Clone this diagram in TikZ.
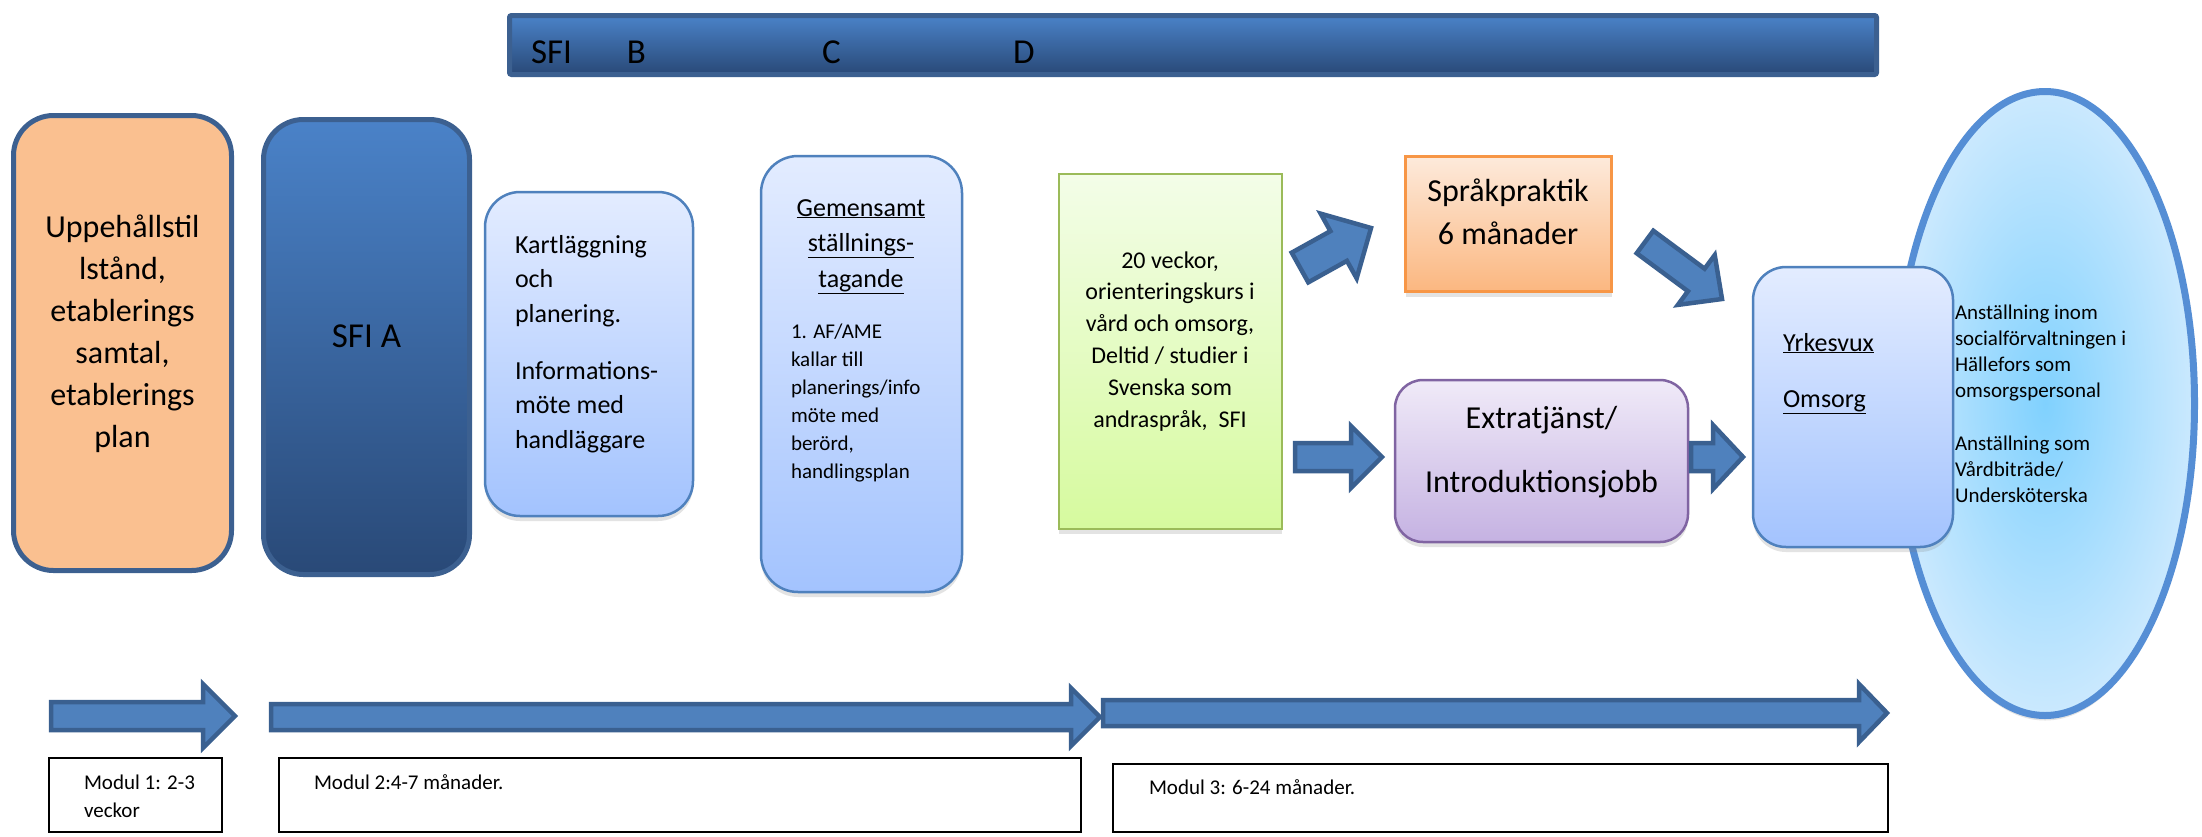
\documentclass[tikz,border=0pt]{standalone}
\usepackage{fontspec}
\setmainfont{Carlito}
\usetikzlibrary{calc,shadows,shapes.geometric}
\definecolor{arrowfill}{HTML}{4F81BD}
\definecolor{arrowline}{HTML}{3A6090}
\definecolor{darkline}{HTML}{3C6090}
\definecolor{navytop}{HTML}{4A82C8}
\definecolor{navybot}{HTML}{294977}
\definecolor{peach}{HTML}{FAC090}
\definecolor{lbtop}{HTML}{E3ECFF}
\definecolor{lbbot}{HTML}{A3C3FE}
\definecolor{lbline}{HTML}{4F81BD}
\definecolor{grtop}{HTML}{F3FDE8}
\definecolor{grbot}{HTML}{D6FA9E}
\definecolor{grline}{HTML}{9BBB59}
\definecolor{ortop}{HTML}{FDEADB}
\definecolor{orbot}{HTML}{FBB780}
\definecolor{orline}{HTML}{F79646}
\definecolor{pptop}{HTML}{F0EAF8}
\definecolor{ppbot}{HTML}{C5B2E2}
\definecolor{ppline}{HTML}{8064A2}
\definecolor{ellin}{HTML}{80D1FE}
\definecolor{ellout}{HTML}{CBE9FE}
\definecolor{ellline}{HTML}{558ED5}
\tikzset{
  box/.style={inner sep=0pt, outer sep=0pt},
  shadowed/.style={drop shadow={opacity=0.22, shadow xshift=0pt, shadow yshift=-5pt}},
  thickbox/.style={box, draw=darkline, line width=5pt},
  lightbox/.style={box, shadowed, draw=lbline, line width=2.5pt, top color=lbtop, bottom color=lbbot},
  greenbox/.style={box, shadowed, draw=grline, line width=2.5pt, top color=grtop, bottom color=grbot},
  orangebox/.style={box, shadowed, draw=orline, line width=2.5pt, top color=ortop, bottom color=orbot},
  purplebox/.style={box, shadowed, draw=ppline, line width=2.5pt, top color=pptop, bottom color=ppbot, rounded corners=28pt},
  modbox/.style={box, draw=black, line width=2pt, fill=white},
  blockarrowstyle/.style={fill=arrowfill, draw=arrowline, line width=4.5pt, line join=miter},
  txt/.style={inner sep=0pt, outer sep=0pt, text=black},
}
\newcommand\blockarr[5]{%
  \coordinate (ba-h) at ($(#2)!#5!(#1)$);
  \path[blockarrowstyle] ($(#1)!#3!90:(#2)$) -- ($(ba-h)!#3!90:(#2)$) -- ($(ba-h)!#4!90:(#2)$) -- (#2)
     -- ($(ba-h)!#4!-90:(#2)$) -- ($(ba-h)!#3!-90:(#2)$) -- ($(#1)!#3!-90:(#2)$) -- cycle;
}
\begin{document}
\begin{tikzpicture}[x=1pt, y=-1pt]
\useasboundingbox (0,0) rectangle (2202,836);
\fill[white] (0,0) rectangle (2202,836);

% top bar
\node[thickbox, top color=navytop, bottom color=navybot, minimum width=1367pt, minimum height=59pt, rounded corners=2pt] (sfibar) at (1193,45) {};
\node[txt, anchor=base west, font=\fontsize{35}{42}\selectfont] (sfitext) at (531,63)
  {\makebox[96pt][l]{SFI}\makebox[195pt][l]{B}\makebox[191pt][l]{C}D};

% box 1
\node[thickbox, fill=peach, rounded corners=40pt, minimum width=218pt, minimum height=455pt] (b1) at (122.5,343) {};
\node[txt, anchor=north, align=center, font=\fontsize{32}{42}\selectfont] (t1) at (122.5,208.2)
  {\rule{0pt}{28.8pt}Uppehållstil\\lstånd,\\etablerings\\samtal,\\etablerings\\plan};

% box 2 SFI A
\node[thickbox, top color=navytop, bottom color=navybot, rounded corners=40pt, minimum width=206pt, minimum height=455pt] (b2) at (366.5,347) {};
\node[txt, anchor=base, font=\fontsize{35}{42}\selectfont] (t2) at (366.5,347) {SFI A};

% box 3
\node[lightbox, rounded corners=35pt, minimum width=208pt, minimum height=324pt] (b3) at (589,354) {};
\node[txt, anchor=north west, align=left, font=\fontsize{26}{34.7}\selectfont] (t3) at (515,229.6)
  {\rule{0pt}{23.4pt}Kartläggning\\och\\planering.\\[22pt]Informations-\\möte med\\handläggare};

% box 4
\node[lightbox, rounded corners=37pt, minimum width=201pt, minimum height=436pt] (b4) at (861.5,374) {};
\node[txt, anchor=north, align=center, font=\fontsize{26}{35.5}\selectfont] (t4) at (861,192.6)
  {\rule{0pt}{23.4pt}\underline{Gemensamt}\\\underline{ställnings-}\\\underline{tagande}};
\node[txt, anchor=north west, align=left, font=\fontsize{21}{28}\selectfont] (t4b) at (791,319.1)
  {\rule{0pt}{18.9pt}1. AF/AME\\kallar till\\planerings/info\\möte med\\berörd,\\handlingsplan};

% green box
\node[greenbox, minimum width=223pt, minimum height=355pt] (b5) at (1170.5,351.5) {};
\node[txt, anchor=north, align=center, font=\fontsize{24}{31.8}\selectfont] (t5) at (1170,246.4)
  {\rule{0pt}{21.6pt}20 veckor,\\orienteringskurs i\\vård och omsorg,\\Deltid / studier i\\Svenska som\\andraspråk,\ \ SFI};

% Språkpraktik
\node[orangebox, minimum width=206pt, minimum height=135pt] (b6) at (1508.5,224) {};
\node[txt, anchor=north, align=center, font=\fontsize{32}{43}\selectfont] (t6) at (1508,172.2)
  {\rule{0pt}{28.8pt}Språkpraktik\\6 månader};

% Extratjänst
\node[purplebox, minimum width=293pt, minimum height=162pt] (b7) at (1541.5,461) {};
\node[txt, anchor=north, align=center, font=\fontsize{32}{42}\selectfont] (t7) at (1541.5,399.2)
  {\rule{0pt}{28.8pt}Extratjänst/\\[22pt]Introduktionsjobb};

% ellipse goal
\node[ellipse, box, shadowed, draw=ellline, line width=7pt, inner color=ellin, outer color=ellout, minimum width=299pt, minimum height=624pt] (goal) at (2045,403.5) {};

% Yrkesvux
\node[lightbox, rounded corners=33pt, minimum width=200pt, minimum height=280pt] (b8) at (1853,407) {};
\node[txt, anchor=north west, align=left, font=\fontsize{26}{56}\selectfont] (t8) at (1783,327.6)
  {\rule{0pt}{23.4pt}\underline{Yrkesvux}\\\underline{Omsorg}};

\node[txt, anchor=north west, align=left, font=\fontsize{21}{26}\selectfont] (t9) at (1955,300.1)
  {\rule{0pt}{18.9pt}Anställning inom\\socialförvaltningen i\\Hällefors som\\omsorgspersonal\\[27pt]Anställning som\\Vårdbiträde/\\Undersköterska};

% block arrows between boxes
\coordinate (g1s) at (1300,267.5); \coordinate (g1e) at (1371,228);
\blockarr{g1s}{g1e}{17pt}{37pt}{37pt}
\coordinate (g2s) at (1295,457); \coordinate (g2e) at (1382,457);
\blockarr{g2s}{g2e}{14pt}{31pt}{31pt}
\coordinate (s1s) at (1645,242); \coordinate (s1e) at (1722,299);
\blockarr{s1s}{s1e}{14pt}{31pt}{32pt}
\coordinate (e1s) at (1691,457); \coordinate (e1e) at (1743,457);
\blockarr{e1s}{e1e}{14pt}{32pt}{30pt}

% timeline arrows
\coordinate (m1s) at (51,716); \coordinate (m1e) at (235,716);
\blockarr{m1s}{m1e}{14pt}{32pt}{32pt}
\coordinate (m2s) at (271,717); \coordinate (m2e) at (1100,717);
\blockarr{m2s}{m2e}{13pt}{29pt}{29pt}
\coordinate (m3s) at (1103,713); \coordinate (m3e) at (1887,713);
\blockarr{m3s}{m3e}{13pt}{29pt}{28pt}

% module boxes
\node[modbox, minimum width=173pt, minimum height=74pt] (mod1) at (135.5,795) {};
\node[txt, anchor=north west, align=left, font=\fontsize{21}{28}\selectfont] (mt1) at (84,770.1)
  {\rule{0pt}{18.9pt}Modul 1: 2-3\\veckor};
\node[modbox, minimum width=802pt, minimum height=74pt] (mod2) at (680,795) {};
\node[txt, anchor=base west, font=\fontsize{21}{28}\selectfont] (mt2) at (314,789) {Modul 2:4-7 månader.};
\node[modbox, minimum width=775pt, minimum height=68pt] (mod3) at (1500.5,798) {};
\node[txt, anchor=base west, font=\fontsize{21}{28}\selectfont] (mt3) at (1149,794) {Modul 3: 6-24 månader.};
\end{tikzpicture}
\end{document}
